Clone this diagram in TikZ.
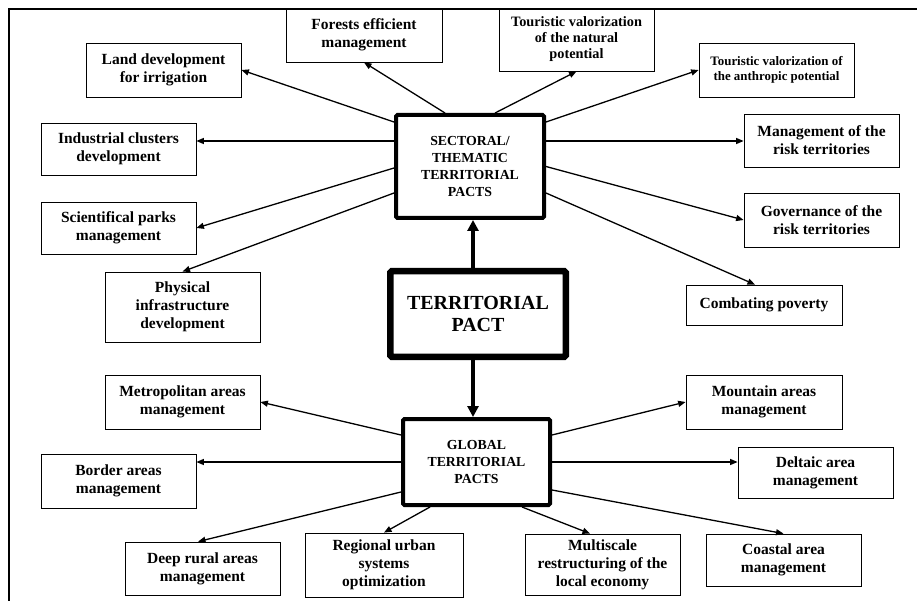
\documentclass[tikz,border=0pt]{standalone}
\usepackage{fontspec}
\setmainfont{Liberation Serif}
\usetikzlibrary{arrows.meta}
\begin{document}
\begin{tikzpicture}[x=1pt,y=-1pt,
  tbox/.style={draw, line width=0.8pt, align=center, inner sep=0pt, font=\bfseries\fontsize{15.5}{18}\selectfont},
  hub/.style={tbox, line width=4pt, rounded corners=1.5pt},
  arr/.style={line width=1.3pt, -{Triangle[length=7.5pt,width=6pt]}},
  bigarr/.style={line width=4pt, -{Triangle[length=11pt,width=11pt]}}
]
\useasboundingbox (0,0) rectangle (917,601);
\fill[white] (0,0) rectangle (917,601);

% top row / sectoral children
\node[tbox, minimum width=156pt, minimum height=54pt] (forests) at (364,35) {Forests efficient\\management};
\node[tbox, minimum width=155pt, minimum height=63pt, font=\bfseries\fontsize{14.3}{16}\selectfont] (natural) at (576.5,39.5) {Touristic valorization\\of the natural\\potential};
\node[tbox, minimum width=155pt, minimum height=54pt] (land) at (163.5,70) {Land development\\for irrigation};
\node[tbox, minimum width=155pt, minimum height=54pt, font=\bfseries\fontsize{12.9}{15}\selectfont] (anthro) at (776.5,70) {Touristic valorization of\\the anthropic potential};
\node[tbox, minimum width=155pt, minimum height=52pt] (indus) at (118.5,149) {Industrial clusters\\development};
\node[tbox, minimum width=155pt, minimum height=53pt] (mgmt) at (821.5,140.5) {Management of the\\risk territories};
\node[tbox, minimum width=155pt, minimum height=52pt] (scien) at (118.5,228) {Scientifical parks\\management};
\node[tbox, minimum width=155pt, minimum height=54pt] (gov) at (821.5,220) {Governance of the\\risk territories};
\node[tbox, minimum width=155pt, minimum height=70pt] (phys) at (182.5,307) {Physical\\infrastructure\\development};
\node[tbox, minimum width=156pt, minimum height=40pt] (pov) at (764,305) {Combating poverty};

% global children
\node[tbox, minimum width=155pt, minimum height=54pt] (metro) at (182.5,402) {Metropolitan areas\\management};
\node[tbox, minimum width=156pt, minimum height=54pt] (mount) at (764,402) {Mountain areas\\management};
\node[tbox, minimum width=155pt, minimum height=54pt] (border) at (118.5,481) {Border areas\\management};
\node[tbox, minimum width=155pt, minimum height=51pt] (delta) at (815.5,472.5) {Deltaic area\\management};
\node[tbox, minimum width=155pt, minimum height=53pt] (deep) at (202.5,568.5) {Deep rural areas\\management};
\node[tbox, minimum width=158pt, minimum height=64pt] (regional) at (384,565) {Regional urban\\systems\\optimization};
\node[tbox, minimum width=155pt, minimum height=61pt] (multi) at (602.5,564.5) {Multiscale\\restructuring of the\\local economy};
\node[tbox, minimum width=155pt, minimum height=52pt] (coastal) at (783.5,560) {Coastal area\\management};

% hubs
\node[hub, minimum width=148pt, minimum height=103pt, font=\bfseries\fontsize{13.8}{16.7}\selectfont] (sect) at (470,166.5) {SECTORAL/\\THEMATIC\\TERRITORIAL\\PACTS};
\node[hub, line width=6.5pt, minimum width=175.5pt, minimum height=85.5pt, font=\bfseries\fontsize{20}{22}\selectfont] (pact) at (478,314) {TERRITORIAL\\PACT};
\node[hub, minimum width=147pt, minimum height=86pt, font=\bfseries\fontsize{13.8}{16.7}\selectfont] (glob) at (476.5,462) {GLOBAL\\TERRITORIAL\\PACTS};

% main vertical arrows
\coordinate (p1) at ([xshift=-5pt]pact.north);
\draw[bigarr] (p1) -- (p1 |- sect.south);
\coordinate (p2) at ([xshift=-5pt]pact.south);
\draw[bigarr] (p2) -- (p2 |- glob.north);

% sectoral connectors
\draw[arr] ([yshift=44.5pt]sect.west) -- (land.east);
\draw[arr] ([xshift=-25pt]sect.north) -- (forests.south);
\coordinate (s1) at ([yshift=25.5pt]sect.west);
\draw[arr] (s1) -- (s1 -| indus.east);
\draw[arr] ([yshift=-1.5pt]sect.west) -- (scien.east);
\draw[arr] ([yshift=-26.5pt]sect.west) -- (phys.north);
\draw[arr] ([xshift=25pt]sect.north) -- (natural.south);
\draw[arr] ([yshift=44.5pt]sect.east) -- (anthro.west);
\coordinate (s2) at ([yshift=25.5pt]sect.east);
\draw[arr] (s2) -- (s2 -| mgmt.west);
\draw[arr] (sect.east) -- (gov.west);
\draw[arr] ([yshift=-26.5pt]sect.east) -- ([xshift=-9pt]pov.north);

% global connectors
\draw[arr] ([yshift=27pt]glob.west) -- (metro.east);
\coordinate (g1) at (glob.west);
\draw[arr] (g1) -- (g1 -| border.east);
\draw[arr] ([yshift=-30pt]glob.west) -- ([xshift=-4.5pt]deep.north);
\draw[arr] ([xshift=-46.5pt]glob.south) -- (regional.north);
\draw[arr] ([xshift=45.5pt]glob.south) -- ([xshift=-12.5pt]multi.north);
\draw[arr] ([yshift=-28pt]glob.east) -- (coastal.north);
\coordinate (g2) at (glob.east);
\draw[arr] (g2) -- (g2 -| delta.west);
\draw[arr] ([yshift=27pt]glob.east) -- (mount.west);

% frame
\draw[line width=2.7pt] (9,601) -- (9,9) -- (917,9);
\end{tikzpicture}
\end{document}
